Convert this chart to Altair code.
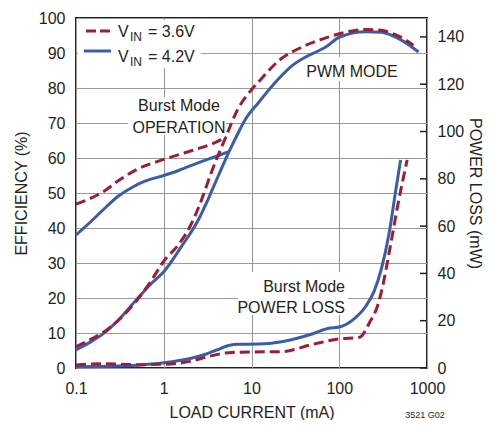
import altair as alt
import pandas as pd

# ---------------- data ----------------
# VIN = 3.6V
load_36_burst = [0.1, 0.15, 0.2, 0.3, 0.5, 1.0, 1.5, 2.5, 4.0, 5.2]
eff_36_burst = [46.8, 48.6, 50.2, 53.4, 56.8, 59.6, 61.0, 62.7, 64.6, 66.0]
load_36_pwm = [0.1, 0.15, 0.2, 0.3, 0.5, 0.7, 1.0, 1.5, 2.0, 2.6, 3.5, 5.0, 7.0, 10, 12, 20, 40, 70, 100, 200, 300, 400, 550, 700]
eff_36_pwm = [6.1, 8.3, 10.0, 13.5, 19.5, 24.5, 30.5, 35.5, 40.5, 47.0, 56.0, 65.5, 74.0, 79.5, 81.7, 87.6, 92.0, 94.3, 95.5, 96.7, 96.5, 95.6, 94.0, 92.2]
load_36_loss = [0.1, 0.2, 0.5, 1.0, 2.0, 3.2, 5.5, 10, 22, 50, 100, 170, 220, 280, 310, 380, 460, 594]
loss_36 = [1.3, 1.8, 1.4, 1.6, 2.8, 4.8, 6.5, 6.8, 6.9, 10.0, 12.3, 13.0, 19.0, 27.5, 34.0, 51.0, 68.0, 88.0]

# VIN = 4.2V
load_42_burst = [0.1, 0.15, 0.2, 0.3, 0.45, 0.6, 1.0, 1.5, 2.5, 4.0, 5.5]
eff_42_burst = [38.0, 42.0, 45.0, 49.0, 51.8, 53.3, 55.0, 56.5, 58.7, 60.5, 61.8]
load_42_pwm = [0.1, 0.15, 0.2, 0.28, 0.5, 0.7, 1.0, 1.6, 2.5, 3.2, 4.2, 5.5, 7.0, 8.5, 12, 20, 29, 41, 70, 100, 200, 300, 400, 600, 800]
eff_42_pwm = [5.2, 7.6, 9.6, 12.8, 19.8, 23.8, 27.5, 34.8, 42.5, 48.2, 55.0, 61.6, 67.0, 71.0, 75.8, 82.4, 86.4, 88.8, 91.7, 94.5, 96.1, 95.9, 95.0, 92.6, 90.3]
load_42_loss = [0.1, 0.3, 0.5, 1.0, 2.0, 3.0, 4.0, 5.5, 7.0, 12, 22, 50, 76, 100, 150, 200, 250, 300, 370, 440, 500]
loss_42 = [0.5, 0.8, 1.2, 2.2, 4.0, 5.8, 7.6, 9.5, 10.0, 10.1, 11.1, 14.5, 16.8, 17.3, 21.0, 26.0, 32.5, 41.5, 57.0, 75.0, 88.0]

x_ticks = [0.1, 1, 10, 100, 1000]
eff_ticks = list(range(0, 101, 10))
loss_ticks = list(range(0, 141, 20))

# ---------------- styling ----------------
FONT = "Liberation Sans"
RED = "#9b1d36"
BLUE = "#3d5ca8"
INK = "#231f20"
GRID = "#9a9a9a"
W, H = 351, 350


def frame(xs, ys, piece, col):
    return pd.DataFrame({"load": xs, col: ys, "piece": piece})


eff_36 = pd.concat([frame(load_36_burst, eff_36_burst, "burst", "eff"),
                    frame(load_36_pwm, eff_36_pwm, "pwm", "eff")])
eff_42 = pd.concat([frame(load_42_burst, eff_42_burst, "burst", "eff"),
                    frame(load_42_pwm, eff_42_pwm, "pwm", "eff")])
ls_36 = frame(load_36_loss, loss_36, "loss", "loss")
ls_42 = frame(load_42_loss, loss_42, "loss", "loss")
tick_df = pd.DataFrame({"loss": loss_ticks})
dummy = pd.DataFrame({"k": [0]})

X = alt.X("load:Q", scale=alt.Scale(type="log", domain=[0.1, 1000]),
          axis=alt.Axis(values=x_ticks, format="~g", title="LOAD CURRENT (mA)",
                        grid=True, ticks=False, labelPadding=12, titlePadding=8,
                        labelFlush=False, labelOverlap=False))
Y_EFF = alt.Y("eff:Q", scale=alt.Scale(domain=[0, 100], nice=False),
              axis=alt.Axis(values=eff_ticks, title="EFFICIENCY (%)", grid=True,
                            ticks=False, labelPadding=11, titlePadding=9,
                            labelFlush=False))
Y_LOSS = alt.Y("loss:Q", scale=alt.Scale(domain=[0, 148], nice=False),
               axis=alt.Axis(values=loss_ticks, orient="right", title="POWER LOSS (mW)",
                             grid=False, ticks=False, labelPadding=10, titlePadding=3,
                             labelFlush=False))


def rect(x1, x2, y1, y2):
    return alt.Chart(dummy).mark_rect(color="white").encode(
        x=alt.value(x1), x2=alt.value(x2), y=alt.value(y1), y2=alt.value(y2))


def txt(s, x, y, size=16, align="center", color=INK):
    return alt.Chart(dummy).mark_text(text=s, fontSize=size, align=align,
                                      baseline="alphabetic", font=FONT, color=color).encode(
        x=alt.value(x), y=alt.value(y))


def seg(x1, x2, y, color, dash=None):
    kw = dict(color=color, strokeWidth=3)
    if dash:
        kw["strokeDash"] = dash
    return alt.Chart(dummy).mark_rule(**kw).encode(
        x=alt.value(x1), x2=alt.value(x2), y=alt.value(y))


eff_blue = alt.Chart(eff_42).mark_line(color=BLUE, strokeWidth=3, interpolate="monotone").encode(
    x=X, y=Y_EFF, detail="piece:N")
eff_red = alt.Chart(eff_36).mark_line(color=RED, strokeWidth=3, strokeDash=[10, 5],
                                      interpolate="monotone").encode(
    x=X, y=Y_EFF, detail="piece:N")

left = alt.layer(
    rect(2, 125, 2, 50),          # legend box
    rect(52, 150, 79, 117),       # Burst Mode OPERATION box
    rect(222, 327, 39, 63),       # PWM MODE box
    rect(162, 272, 254, 297),     # Burst Mode POWER LOSS box
    eff_blue, eff_red,
    seg(10, 35, 13, RED, [10, 4]),
    seg(8, 35, 33, BLUE),
    txt("V", 42, 19, align="left"), txt("IN", 54, 23, size=12, align="left"),
    txt("= 3.6V", 72, 19, align="left"),
    txt("V", 42, 44, align="left"), txt("IN", 54, 48, size=12, align="left"),
    txt("= 4.2V", 72, 44, align="left"),
    txt("Burst Mode", 103, 93), txt("OPERATION", 103, 115),
    txt("PWM MODE", 276, 59),
    txt("Burst Mode", 269, 274, align="right"), txt("POWER LOSS", 269, 295, align="right"),
    txt("3521 G02", 349, 400, size=9, align="center"),
)

loss_blue = alt.Chart(ls_42).mark_line(color=BLUE, strokeWidth=3, interpolate="monotone").encode(
    x=X, y=Y_LOSS)
loss_red = alt.Chart(ls_36).mark_line(color=RED, strokeWidth=3, strokeDash=[10, 5],
                                      interpolate="monotone").encode(
    x=X, y=Y_LOSS)
ticks_right = alt.Chart(tick_df).mark_rule(color=INK, strokeWidth=1.5).encode(
    y=Y_LOSS, x=alt.value(W - 7), x2=alt.value(W))

right = alt.layer(loss_blue, loss_red, ticks_right)

chart = alt.layer(left, right).resolve_scale(y="independent").properties(
    width=W, height=H,
    autosize=alt.AutoSizeParams(type="none"),
    padding={"left": 68, "top": 10, "right": 58, "bottom": 52},
).configure_view(stroke=INK, strokeWidth=2).configure_axis(
    domain=False, gridColor=GRID, gridWidth=1.1, gridOpacity=1,
    labelFont=FONT, labelFontSize=16, labelColor=INK,
    titleFont=FONT, titleFontSize=16, titleColor=INK, titleFontWeight="normal",
)

chart.save("out.html", embed_options={"renderer": "svg", "actions": False})
